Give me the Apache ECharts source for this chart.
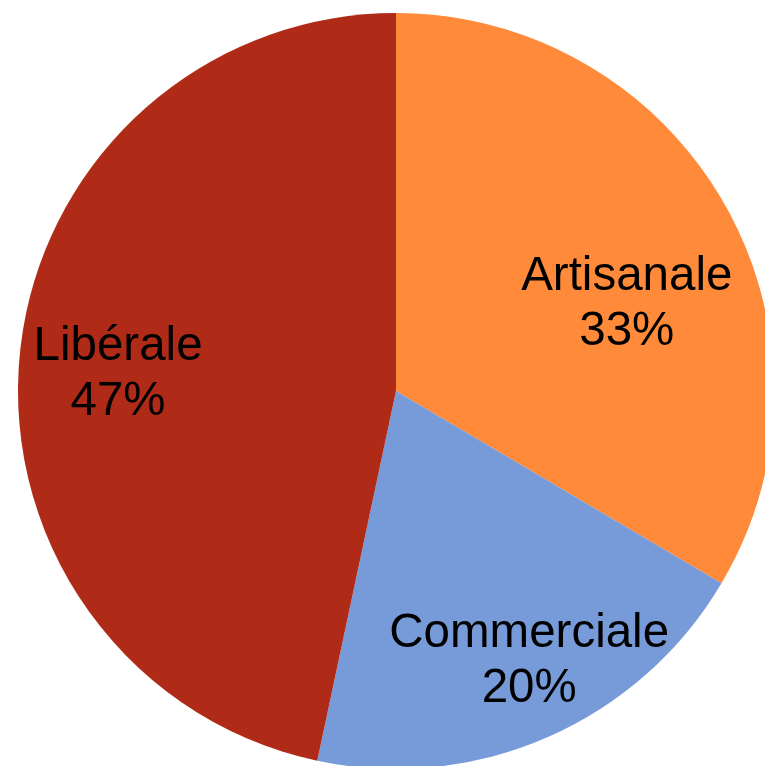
<!DOCTYPE html>
<html>
<head>
<meta charset="utf-8">
<script src="https://cdn.jsdelivr.net/npm/echarts@6/dist/echarts.min.js"></script>
<style>
html,body{margin:0;padding:0;background:#fff;}
#chart{width:765px;height:766px;}
</style>
</head>
<body>
<div id="chart"></div>
<script>
const categories = ['Artisanale', 'Commerciale', 'Libérale'];
const values = [33.49, 19.85, 46.66];
const colors = ['#FF8A3A', '#779BD9', '#B02B17'];
const labelOffsets = [[64, 9], [56, 95], [-87, 4]];

const chart = echarts.init(document.getElementById('chart'), null, {renderer: 'canvas'});
chart.setOption({
  animation: false,
  backgroundColor: '#ffffff',
  series: [{
    type: 'pie',
    center: [396, 391],
    radius: [0, 378],
    startAngle: 90,
    clockwise: true,
    avoidLabelOverlap: false,
    label: {
      show: true,
      position: 'inside',
      color: '#000000',
      fontFamily: 'Liberation Sans, Arial, sans-serif',
      fontSize: 47.5,
      lineHeight: 55,
      align: 'center',
      formatter: function (p) { return p.name + '\n' + Math.round(p.percent) + '%'; }
    },
    labelLine: {show: false},
    itemStyle: {borderWidth: 0},
    emphasis: {disabled: true},
    data: categories.map(function (c, i) {
      return {
        name: c,
        value: values[i],
        itemStyle: {color: colors[i]},
        label: {offset: labelOffsets[i]}
      };
    })
  }]
});
</script>
</body>
</html>
